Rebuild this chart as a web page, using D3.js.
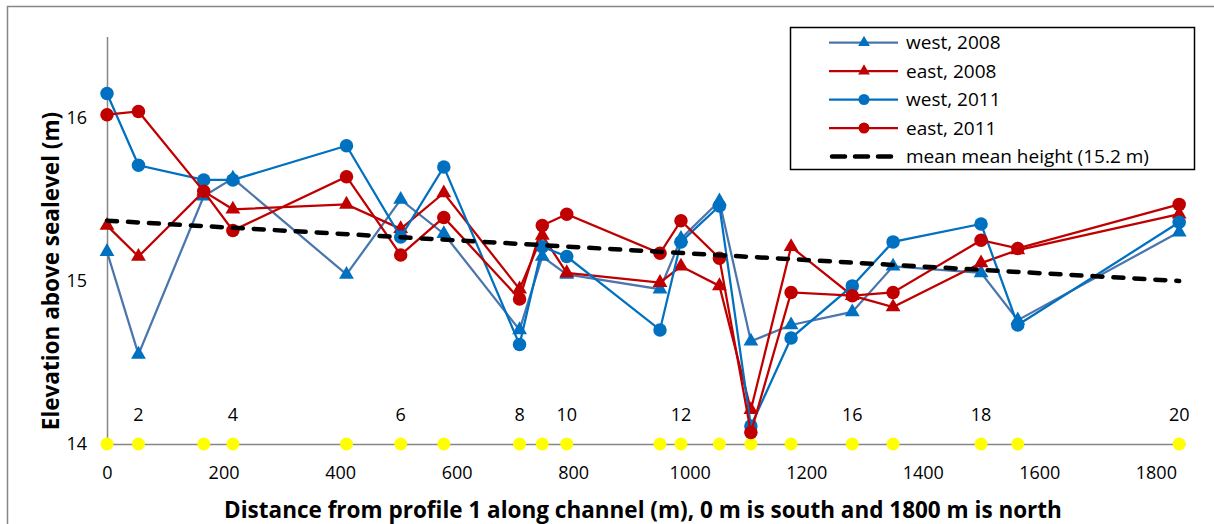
<!DOCTYPE html>
<html>
<head>
<meta charset="utf-8">
<script src="https://cdn.jsdelivr.net/npm/d3@7"></script>
<style>
body { margin:0; background:#fff; }
svg text { font-family: "Open Sans", sans-serif; fill:#000; }
</style>
</head>
<body>
<div id="chart"></div>
<script>
// profile positions along the channel (m)
var distance=[0,54,166,216,411,504,578,708,747,789,949,985,1051,1105,1174,1279,1349,1500,1563,1840];
var profileLabels=[2,4,6,8,10,12,16,18,20];
var west2008=[15.18,14.55,15.52,15.63,15.04,15.50,15.29,14.70,15.15,15.04,14.95,15.26,15.49,14.63,14.73,14.81,15.09,15.05,14.76,15.30];
var east2008=[15.34,15.15,15.55,15.44,15.47,15.32,15.54,14.95,15.28,15.05,14.99,15.09,14.97,14.21,15.21,14.91,14.84,15.11,15.19,15.41];
var west2011=[16.15,15.71,15.62,15.62,15.83,15.27,15.70,14.61,15.21,15.15,14.70,15.24,15.46,14.11,14.65,14.97,15.24,15.35,14.73,15.36];
var east2011=[16.02,16.04,15.55,15.31,15.64,15.16,15.39,14.89,15.34,15.41,15.17,15.37,15.14,14.07,14.93,14.91,14.93,15.25,15.20,15.47];
// trend of the mean height
var meanDist=[0,1840];
var meanHeight=[15.37,15.0];
var xTicks=[0,200,400,600,800,1000,1200,1400,1600,1800];
var yTicks=[14,15,16];

var series=[
    {name:"west, 2008", values:west2008, line:"#4a76ad", fill:"#0070c0", shape:"triangle"},
    {name:"east, 2008", values:east2008, line:"#c00000", fill:"#c00000", shape:"triangle"},
    {name:"west, 2011", values:west2011, line:"#0070c0", fill:"#0070c0", shape:"circle"},
    {name:"east, 2011", values:east2011, line:"#c00000", fill:"#c00000", shape:"circle"}
];

function draw() {
    var svg=d3.select("#chart").append("svg")
        .attr("width",1214)
        .attr("height",524);

    svg.append("rect")
        .attr("x",7.5).attr("y",6.5)
        .attr("width",1220).attr("height",540)
        .attr("fill","none")
        .attr("stroke","#868686")
        .attr("stroke-width",1.5);

    var x=d3.scaleLinear().domain([0,1850]).range([107,1185]);
    var y=d3.scaleLinear().domain([14,16.5]).range([444,36.5]);

    // axes
    var yAxis=svg.append("g")
        .attr("transform","translate(107,0)")
        .call(d3.axisLeft(y).tickValues(yTicks).tickSize(0).tickPadding(20).tickFormat(d3.format("d")));
    yAxis.select(".domain").attr("stroke","#868686").attr("stroke-width",1.5);
    yAxis.selectAll("text").style("font-size","18px");

    var xAxis=svg.append("g")
        .attr("transform","translate(0,444)")
        .call(d3.axisBottom(x).tickValues(xTicks).tickSize(0).tickPadding(22).tickFormat(d3.format("d")));
    xAxis.select(".domain").attr("stroke","#868686").attr("stroke-width",1.5);
    xAxis.selectAll("text").style("font-size","18px");

    svg.append("text")
        .attr("transform","translate(59,271) rotate(-90)")
        .attr("text-anchor","middle")
        .style("font-size","22.5px")
        .style("font-weight","bold")
        .text("Elevation above sealevel (m)");

    svg.append("text")
        .attr("x",643).attr("y",518)
        .attr("text-anchor","middle")
        .style("font-size","22.5px")
        .style("font-weight","bold")
        .text("Distance from profile 1 along channel (m), 0 m is south and 1800 m is north");

    // profile numbers
    svg.selectAll("text.prof")
        .data(profileLabels)
        .enter()
        .append("text")
        .attr("class","prof")
        .attr("x",function(p) { return x(distance[p-1]); })
        .attr("y",421)
        .attr("text-anchor","middle")
        .style("font-size","18px")
        .text(function(p) { return p; });

    // yellow profile markers
    svg.selectAll("circle.prof")
        .data(distance)
        .enter()
        .append("circle")
        .attr("class","prof")
        .attr("cx",function(d) { return x(d); })
        .attr("cy",y(14))
        .attr("r",6.5)
        .attr("fill","#ffff00");

    var line=d3.line()
        .x(function(d,i) { return x(distance[i]); })
        .y(function(d) { return y(d); });
    var tri=d3.symbol().type(d3.symbolTriangle).size(95);

    series.forEach(function(s) {
        var g=svg.append("g");
        g.append("path")
            .attr("d",line(s.values))
            .attr("fill","none")
            .attr("stroke",s.line)
            .attr("stroke-width",2.25);
        if (s.shape=="circle") {
            g.selectAll("circle")
                .data(s.values)
                .enter()
                .append("circle")
                .attr("cx",function(d,i) { return x(distance[i]); })
                .attr("cy",function(d) { return y(d); })
                .attr("r",6.75)
                .attr("fill",s.fill);
        }
        else {
            g.selectAll("path.m")
                .data(s.values)
                .enter()
                .append("path")
                .attr("class","m")
                .attr("d",tri)
                .attr("transform",function(d,i) { return "translate("+x(distance[i])+","+y(d)+")"; })
                .attr("fill",s.fill);
        }
    });

    svg.append("path")
        .attr("d",d3.line()
            .x(function(d,i) { return x(meanDist[i]); })
            .y(function(d) { return y(d); })(meanHeight))
        .attr("fill","none")
        .attr("stroke","#000")
        .attr("stroke-width",4.5)
        .attr("stroke-linecap","round")
        .attr("stroke-dasharray","10 11");

    // legend
    var lg=svg.append("g");
    lg.append("rect")
        .attr("x",790.5).attr("y",27.5)
        .attr("width",404).attr("height",142)
        .attr("fill","#fff")
        .attr("stroke","#000")
        .attr("stroke-width",1.5);
    var rows=series.concat([{name:"mean mean height (15.2 m)", shape:"dash"}]);
    rows.forEach(function(s,i) {
        var cy=42.5+i*28.5;
        if (s.shape=="dash") {
            lg.append("line")
                .attr("x1",832).attr("x2",897)
                .attr("y1",cy).attr("y2",cy)
                .attr("stroke","#000")
                .attr("stroke-width",4.5)
                .attr("stroke-linecap","round")
                .attr("stroke-dasharray","13 10");
        }
        else {
            lg.append("line")
                .attr("x1",829).attr("x2",898)
                .attr("y1",cy).attr("y2",cy)
                .attr("stroke",s.line)
                .attr("stroke-width",2.25);
            if (s.shape=="circle") {
                lg.append("circle").attr("cx",864).attr("cy",cy).attr("r",5.5).attr("fill",s.fill);
            }
            else {
                lg.append("path")
                    .attr("d",d3.symbol().type(d3.symbolTriangle).size(60)())
                    .attr("transform","translate(864,"+cy+")")
                    .attr("fill",s.fill);
            }
        }
        lg.append("text")
            .attr("x",906).attr("y",cy+6.5)
            .style("font-size","19px")
            .text(s.name);
    });
}

document.body.onload=function() {
    draw();
}
</script>
</body>
</html>
